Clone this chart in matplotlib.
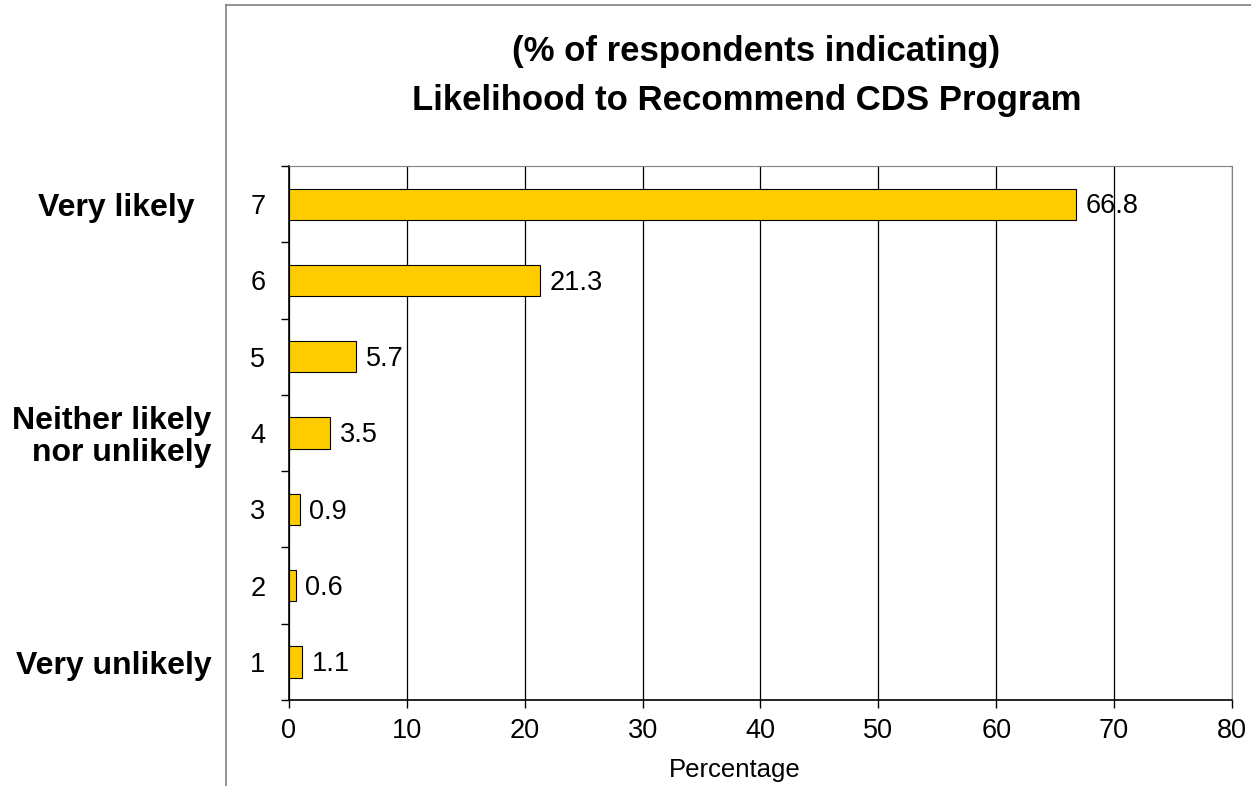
import matplotlib.pyplot as plt
from matplotlib.lines import Line2D

plt.rcParams["font.family"] = ["Liberation Sans", "DejaVu Sans"]

scores = [1, 2, 3, 4, 5, 6, 7]
values = [1.1, 0.6, 0.9, 3.5, 5.7, 21.3, 66.8]
anchor_labels = {7: "Very likely", 4: "Neither likely\nnor unlikely", 1: "Very unlikely"}

fig = plt.figure(figsize=(12.51, 7.86), dpi=100)
ax = fig.add_axes([0.231, 0.1094, 0.7538, 0.6794])

ax.barh(scores, values, height=0.41, color="#FFCC00", edgecolor="black", linewidth=0.8, zorder=3)
for s, v in zip(scores, values):
    ax.text(v + 0.8, s - 0.03, f"{v:.1f}", va="center", ha="left", fontsize=19.5, zorder=4)

ax.set_xlim(0, 80)
ax.set_ylim(0.5, 7.5)
ax.set_xticks(range(0, 81, 10))
ax.xaxis.grid(True, color="black", linewidth=0.9, zorder=0)
ax.tick_params(axis="x", labelsize=19.5, length=6, width=1, pad=7, direction="out")

# category labels centred, ticks on the boundaries
ax.set_yticks(scores)
ax.set_yticklabels([str(s) for s in scores])
ax.tick_params(axis="y", which="major", length=0, labelsize=19.5, pad=17)
ax.set_yticks([s + 0.5 for s in range(0, 8)], minor=True)
ax.tick_params(axis="y", which="minor", length=6, width=1, direction="out")

for side in ["top", "right"]:
    ax.spines[side].set_color("#808080")
for side in ["left", "bottom"]:
    ax.spines[side].set_color("black")
    ax.spines[side].set_linewidth(1.2)

# anchor labels on the far left
for s, lab in anchor_labels.items():
    x = -0.1 if s == 7 else -0.082
    ax.text(x, (s - 0.55) / 7, lab, transform=ax.transAxes, ha="right", va="center",
            fontsize=23, fontweight="bold", multialignment="right", linespacing=1.1)

fig.text(0.5875, 0.0204, "Percentage", ha="center", va="center", fontsize=18.5)

fig.text(0.604, 0.934, "(% of respondents indicating)", ha="center", va="center",
         fontsize=25, fontweight="bold")
fig.text(0.597, 0.872, "Likelihood to Recommend CDS Program", ha="center", va="center",
         fontsize=25, fontweight="bold")

# outer chart-area frame
fig.add_artist(Line2D([0.1807, 0.1807], [0.0, 0.9936], color="#808080", linewidth=1.2))
fig.add_artist(Line2D([0.1807, 1.0], [0.9936, 0.9936], color="#808080", linewidth=1.2))

fig.savefig("out.png", dpi=100)
